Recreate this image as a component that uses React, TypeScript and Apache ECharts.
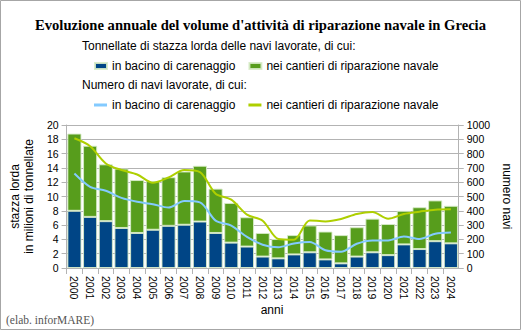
import React, { useEffect, useRef } from "react";
import * as echarts from "echarts";

const years = ["2000","2001","2002","2003","2004","2005","2006","2007","2008","2009","2010","2011","2012","2013","2014","2015","2016","2017","2018","2019","2020","2021","2022","2023","2024"];
// million GT
const tonBacino = [8.0, 7.15, 6.55, 5.6, 4.9, 5.35, 5.9, 6.05, 6.5, 4.9, 3.55, 3.0, 1.6, 1.35, 1.9, 2.2, 1.2, 0.65, 1.6, 2.2, 1.8, 3.3, 2.65, 3.75, 3.45];
const tonCantieri = [10.8, 9.95, 7.95, 8.3, 7.4, 6.8, 6.8, 7.45, 7.8, 6.2, 5.55, 4.1, 3.3, 2.7, 2.7, 3.75, 3.9, 3.95, 4.1, 4.7, 4.35, 4.7, 5.85, 5.7, 5.25];
// number of ships
const naviBacino = [661, 568, 540, 490, 463, 446, 423, 468, 459, 331, 296, 217, 163, 145, 172, 182, 124, 114, 170, 193, 193, 221, 203, 240, 249];
const naviCantieri = [907, 852, 731, 685, 654, 596, 633, 685, 671, 520, 478, 373, 331, 203, 198, 333, 326, 343, 378, 392, 345, 378, 394, 408, 410];

const leftTicks = { min: 0, max: 20, interval: 2 };
const rightTicks = { min: 0, max: 1000, interval: 100 };

const nameBacino = "in bacino di carenaggio";
const nameCantieri = "nei cantieri di riparazione navale";

const GRAY = "#b3b3b3";
const SANS = "'Liberation Sans', Arial, sans-serif";
const SERIF = "'Liberation Serif', 'Times New Roman', serif";

export default function App() {
  const ref = useRef<HTMLDivElement>(null);
  useEffect(() => {
    if (!ref.current) return;
    const chart = echarts.init(ref.current, null, { renderer: "svg" });
    const stripPrefix = (n: string) => n.replace(/^.*?: /, "");
    chart.setOption({
      animation: false,
      backgroundColor: "#ffffff",
      textStyle: { fontFamily: SANS },
      title: {
        text: "Evoluzione annuale del volume d'attività di riparazione navale in Grecia",
        left: "center",
        top: 12,
        textStyle: { fontFamily: SERIF, fontWeight: "bold", fontSize: 14.6, color: "#000" },
      },
      legend: [
        {
          left: 89,
          top: 55,
          itemWidth: 12,
          itemHeight: 6,
          itemGap: 13,
          icon: "rect",
          data: ["t: " + nameBacino, "t: " + nameCantieri],
          formatter: stripPrefix,
          textStyle: { fontSize: 12, color: "#000", fontFamily: SANS },
          selectedMode: false,
        },
        {
          left: 89,
          top: 94,
          itemWidth: 13,
          itemHeight: 3,
          itemGap: 13,
          icon: "rect",
          data: ["n: " + nameBacino, "n: " + nameCantieri],
          formatter: stripPrefix,
          textStyle: { fontSize: 12, color: "#000", fontFamily: SANS },
          selectedMode: false,
        },
      ],
      grid: { left: 58, right: 53, top: 125, bottom: 62 },
      xAxis: {
        type: "category",
        data: years,
        axisLine: { lineStyle: { color: GRAY } },
        axisTick: { show: true, length: 6, lineStyle: { color: GRAY } },
        axisLabel: { rotate: -90, color: "#000", fontSize: 10.5, margin: 8, interval: 0 },
      },
      yAxis: [
        {
          type: "value",
          position: "left",
          ...leftTicks,
          axisLine: { show: true, lineStyle: { color: GRAY } },
          axisTick: { show: true, length: 5, lineStyle: { color: GRAY } },
          splitLine: { lineStyle: { color: GRAY } },
          axisLabel: { color: "#000", fontSize: 10.5, margin: 8 },
          name: "stazza lorda\nin milioni di tonnellate",
          nameLocation: "middle",
          nameRotate: 90,
          nameGap: 24,
          nameTextStyle: { fontSize: 12, color: "#000", lineHeight: 14 },
        },
        {
          type: "value",
          position: "right",
          ...rightTicks,
          axisLine: { show: true, lineStyle: { color: GRAY } },
          axisTick: { show: true, length: 5, lineStyle: { color: GRAY } },
          splitLine: { show: false },
          axisLabel: { color: "#000", fontSize: 10.5, margin: 8, formatter: (v: number) => String(v) },
          name: "numero navi",
          nameLocation: "middle",
          nameRotate: -90,
          nameGap: 37,
          nameTextStyle: { fontSize: 12, color: "#000" },
        },
      ],
      series: [
        {
          name: "t: " + nameBacino,
          type: "bar",
          stack: "ton",
          yAxisIndex: 0,
          data: tonBacino,
          barCategoryGap: "10%",
          itemStyle: { color: "#004586", borderColor: "rgba(215,235,200,0.9)", borderWidth: 1 },
        },
        {
          name: "t: " + nameCantieri,
          type: "bar",
          stack: "ton",
          yAxisIndex: 0,
          data: tonCantieri,
          barCategoryGap: "10%",
          itemStyle: { color: "#579d1c", borderColor: "rgba(215,235,200,0.9)", borderWidth: 1 },
        },
        {
          name: "n: " + nameBacino,
          type: "line",
          yAxisIndex: 1,
          data: naviBacino,
          smooth: 0.3,
          symbol: "none",
          lineStyle: { color: "#83caff", width: 2 },
          itemStyle: { color: "#83caff" },
        },
        {
          name: "n: " + nameCantieri,
          type: "line",
          yAxisIndex: 1,
          data: naviCantieri,
          smooth: 0.3,
          symbol: "none",
          lineStyle: { color: "#aecf00", width: 2 },
          itemStyle: { color: "#aecf00" },
        },
      ],
      graphic: [
        {
          type: "rect",
          shape: { x: 0.5, y: 0.5, width: 520, height: 329 },
          style: { fill: "none", stroke: "#a6a6a6", lineWidth: 1 },
          silent: true,
        },
        {
          type: "text",
          x: 82,
          y: 46,
          style: { text: "Tonnellate di stazza lorda delle navi lavorate, di cui:", fontSize: 12, fontFamily: SANS, fill: "#000", verticalAlign: "middle" },
        },
        {
          type: "text",
          x: 82,
          y: 85,
          style: { text: "Numero di navi lavorate, di cui:", fontSize: 12, fontFamily: SANS, fill: "#000", verticalAlign: "middle" },
        },
        {
          type: "text",
          x: 272,
          y: 310,
          style: { text: "anni", fontSize: 12, fontFamily: SANS, fill: "#000", align: "center", verticalAlign: "middle" },
        },
        {
          type: "text",
          x: 6,
          y: 320,
          style: { text: "(elab. inforMARE)", fontSize: 11.5, fontFamily: SERIF, fill: "#555", verticalAlign: "middle" },
        },
      ],
    });
    return () => chart.dispose();
  }, []);
  return (
    <div style={{ position: "fixed", left: 0, top: 0, width: 521, height: 330, background: "#fff" }}>
      <div ref={ref} style={{ width: 521, height: 330 }} />
    </div>
  );
}
